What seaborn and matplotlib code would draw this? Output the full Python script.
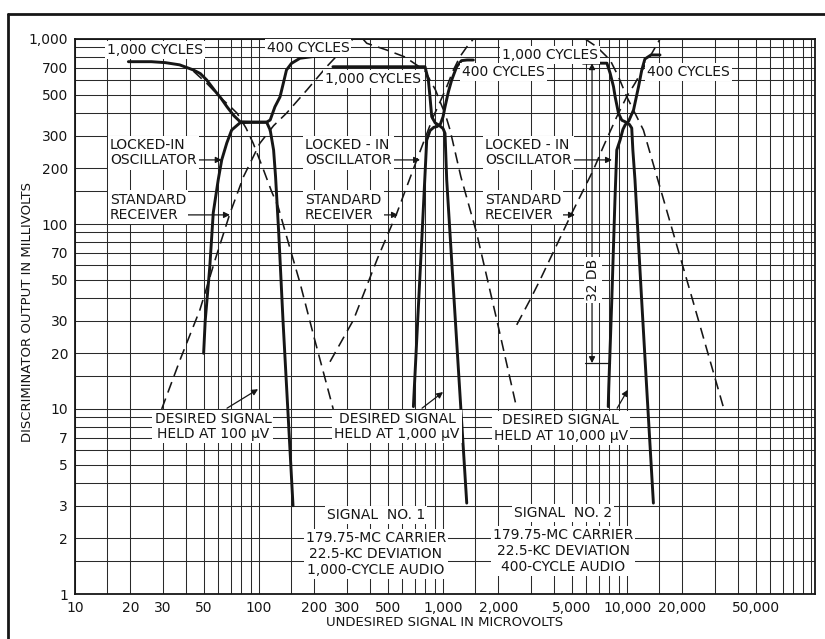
import matplotlib
matplotlib.use('Agg')
import matplotlib.pyplot as plt
import numpy as np
import pandas as pd
import seaborn as sns
from matplotlib.ticker import FixedLocator, FixedFormatter, NullFormatter
from matplotlib.lines import Line2D

# ---- values (microvolts / millivolts) ----
# desired signal held at 100 uV
g1_lock1000_x = [19.5, 26, 31, 37, 44, 48, 52, 58, 62, 67, 73, 79, 95, 110, 115, 120, 123, 128, 135, 153]
g1_lock1000_y = [754, 754, 745, 725, 680, 650, 600, 520, 480, 430, 385, 357, 355, 355, 322, 251, 180, 89, 30, 3]
g1_lock400_x = [50, 51, 54, 56.4, 60, 62.7, 66.8, 71, 79, 95, 110, 115, 122, 130, 135.5, 141, 150, 167, 197, 250]
g1_lock400_y = [20, 30, 58.6, 115, 173, 222, 274, 322, 353, 355, 355, 365, 430, 486, 576, 680, 738, 787, 804, 808]
g1_std1000_x = [44, 52, 62, 70, 76, 85, 93, 105, 117, 127, 145, 167, 200, 253]
g1_std1000_y = [670, 576, 480, 430, 397, 330, 273, 200, 150, 124, 78, 48, 24, 10]
g1_std400_x = [29.6, 37.2, 47.7, 58, 69.5, 82.3, 101, 120, 141, 182, 233, 280, 324]
g1_std400_y = [10, 18.4, 34.3, 65, 114, 180, 273, 340, 397, 530, 708, 860, 1000]

# desired signal held at 1,000 uV
g2_lock1000_x = [252, 500, 798, 832, 849, 868, 906, 950, 1000, 1025, 1047, 1148, 1241, 1345]
g2_lock1000_y = [708, 708, 708, 600, 488, 380, 352, 342, 328, 309, 173, 38.9, 11.2, 3.1]
g2_lock400_x = [690, 728, 774, 801, 815, 850, 890, 925, 965, 1000, 1025, 1070, 1114, 1186, 1259, 1350, 1461]
g2_lock400_y = [10.3, 30, 100, 200, 284, 320, 333, 336, 345, 380, 430, 520, 600, 708, 764, 770, 770]
g2_std1000_x = [367, 385, 494, 620, 720, 800, 849, 910, 964, 1030, 1092, 1250, 1524, 1959, 2514]
g2_std1000_y = [1000, 948, 872, 800, 723, 670, 600, 530, 458, 390, 322, 180, 89, 30.3, 10.1]
g2_std400_x = [243, 326, 440, 560, 720, 885, 964, 1047, 1138, 1237, 1350, 1461]
g2_std400_y = [18, 30.3, 65, 114, 222, 380, 458, 552, 680, 804, 910, 1000]

# desired signal held at 10,000 uV
g3_lock1000_x = [5770, 7770, 8090, 8440, 8610, 8980, 9360, 9760, 10300, 10600, 10750, 11040, 12000, 12800, 13900]
g3_lock1000_y = [740, 740, 653, 552, 488, 397, 364, 357, 345, 330, 251, 173, 38.9, 12.7, 3.1]
g3_lock400_x = [7900, 7950, 8260, 8590, 8790, 9160, 9500, 9760, 10200, 10840, 11540, 12020, 12500, 13500, 15100]
g3_lock400_y = [10.3, 13, 38.9, 134, 251, 284, 325, 343, 360, 413, 552, 680, 780, 820, 820]
g3_std1000_x = [5920, 6840, 8090, 8980, 9960, 11000, 12270, 14700, 22700, 33300]
g3_std1000_y = [1000, 908, 770, 625, 488, 400, 322, 173, 38.9, 10.3]
g3_std400_x = [2514, 2970, 3365, 5000, 6560, 7430, 8790, 9960, 11040, 12500, 15100]
g3_std400_y = [28.5, 38.9, 49.8, 114, 196, 262, 380, 488, 576, 720, 1000]

x_tick_vals = [10, 20, 30, 50, 100, 200, 300, 500, 1000, 2000, 5000, 10000, 20000, 50000]
x_tick_text = ['10', '20', '30', '50', '100', '200', '300', '500', '1,000', '2,000',
               '5,000', '10,000', '20,000', '50,000']
y_tick_vals = [1, 2, 3, 5, 7, 10, 20, 30, 50, 70, 100, 200, 300, 500, 700, 1000]
y_tick_text = ['1', '2', '3', '5', '7', '10', '20', '30', '50', '70', '100', '200', '300',
               '500', '700', '1,000']
paper_steps = [1, 1.5, 2, 3, 4, 5, 6, 7, 8, 9]

curves = [
    ('g1_lock1000', 'locked', g1_lock1000_x, g1_lock1000_y),
    ('g1_lock400', 'locked', g1_lock400_x, g1_lock400_y),
    ('g1_std1000', 'standard', g1_std1000_x, g1_std1000_y),
    ('g1_std400', 'standard', g1_std400_x, g1_std400_y),
    ('g2_lock1000', 'locked', g2_lock1000_x, g2_lock1000_y),
    ('g2_lock400', 'locked', g2_lock400_x, g2_lock400_y),
    ('g2_std1000', 'standard', g2_std1000_x, g2_std1000_y),
    ('g2_std400', 'standard', g2_std400_x, g2_std400_y),
    ('g3_lock1000', 'locked', g3_lock1000_x, g3_lock1000_y),
    ('g3_lock400', 'locked', g3_lock400_x, g3_lock400_y),
    ('g3_std1000', 'standard', g3_std1000_x, g3_std1000_y),
    ('g3_std400', 'standard', g3_std400_x, g3_std400_y),
]
df = pd.concat([pd.DataFrame({'curve': n, 'kind': k, 'x': xs, 'y': ys})
                for n, k, xs, ys in curves], ignore_index=True)

ink = '#161616'
sns.set_style('white')
plt.rcParams['font.family'] = ['DejaVu Sans']

fig = plt.figure(figsize=(8.25, 6.39), dpi=100)
fig.patch.set_facecolor('white')
ax = fig.add_axes([75 / 825, 45 / 639, 740 / 825, 555 / 639])
ax.set_xscale('log')
ax.set_yscale('log')

sns.lineplot(data=df, x='x', y='y', units='curve', estimator=None, sort=False,
             style='kind', size='kind', sizes={'locked': 2.1, 'standard': 1.15},
             dashes={'locked': '', 'standard': (7, 4)}, color=ink, legend=False, ax=ax)

ax.set_xlim(10, 105000)
ax.set_ylim(1, 1000)
ax.set(xlabel='', ylabel='')

# graph-paper grid
x_grid = [m * 10 ** e for e in range(1, 5) for m in paper_steps] + [100000]
y_grid = [m * 10 ** e for e in range(0, 3) for m in paper_steps] + [1000]
ax.xaxis.set_major_locator(FixedLocator(x_tick_vals))
ax.xaxis.set_major_formatter(FixedFormatter(x_tick_text))
ax.xaxis.set_minor_locator(FixedLocator([v for v in x_grid if v not in x_tick_vals]))
ax.xaxis.set_minor_formatter(NullFormatter())
ax.yaxis.set_major_locator(FixedLocator(y_tick_vals))
ax.yaxis.set_major_formatter(FixedFormatter(y_tick_text))
ax.yaxis.set_minor_locator(FixedLocator([v for v in y_grid if v not in y_tick_vals]))
ax.yaxis.set_minor_formatter(NullFormatter())
ax.set_axisbelow(True)
ax.grid(which='both', color='#2a2a2a', lw=0.75)
ax.tick_params(axis='x', which='both', length=0, pad=5, labelsize=10, colors=ink)
ax.tick_params(axis='y', which='major', length=4, width=0.8, pad=1, labelsize=10, colors=ink)
ax.tick_params(axis='y', which='minor', length=0)
for s in ax.spines.values():
    s.set_linewidth(1.3)
    s.set_color(ink)

box = dict(facecolor='white', edgecolor='none', pad=1.5)


def label(x, y, s, ha='left', **kw):
    ax.text(x, y, s, ha=ha, va='center', fontsize=10, color=ink, bbox=box,
            zorder=4, linespacing=1.15, multialignment=ha if ha != 'left' else 'left', **kw)


def arrow(tail, tip, style='-|>'):
    ax.annotate('', xy=tip, xytext=tail, zorder=3,
                arrowprops=dict(arrowstyle=style, color=ink, lw=0.9, mutation_scale=9,
                                shrinkA=0, shrinkB=0))


label(14.9, 872, '1,000 CYCLES')
label(110, 894, '400 CYCLES')
label(228, 608, '1,000 CYCLES')
label(1268, 663, '400 CYCLES')
label(2094, 820, '1,000 CYCLES')
label(12850, 663, '400 CYCLES')

label(15.5, 243, 'LOCKED-IN\nOSCILLATOR')
label(15.5, 123, 'STANDARD\nRECEIVER')
label(178, 243, 'LOCKED - IN\nOSCILLATOR')
label(178, 123, 'STANDARD\nRECEIVER')
label(1690, 243, 'LOCKED - IN\nOSCILLATOR')
label(1690, 123, 'STANDARD\nRECEIVER')

arrow((45, 222), (62.7, 222))
arrow((36, 112), (69.5, 112))
arrow((530, 222), (750, 222))
arrow((415, 112), (569, 112))
arrow((5000, 222), (8280, 222))
arrow((4000, 112), (5210, 112))

label(56.2, 8.04, 'DESIRED SIGNAL\nHELD AT 100 \u00b5V', ha='center')
label(562, 8.04, 'DESIRED SIGNAL\nHELD AT 1,000 \u00b5V', ha='center')
label(4370, 7.9, 'DESIRED SIGNAL\nHELD AT 10,000 \u00b5V', ha='center')
arrow((67, 10.1), (98.8, 12.8))
arrow((769, 10.1), (1000, 12.35))
arrow((8830, 10.1), (10100, 12.7))

label(432, 2.67, 'SIGNAL  NO. 1', ha='center')
label(432, 1.645, '179.75-MC CARRIER\n22.5-KC DEVIATION\n1,000-CYCLE AUDIO', ha='center')
label(4490, 2.74, 'SIGNAL  NO. 2', ha='center')
label(4490, 1.707, '179.75-MC CARRIER\n22.5-KC DEVIATION\n400-CYCLE AUDIO', ha='center')

# 32 dB dimension mark
arrow((6450, 17.7), (6450, 740), style='<|-|>')
ax.plot([5920, 8090], [17.7, 17.7], color=ink, lw=0.9, zorder=3)
ax.text(6530, 49.8, '32 DB', rotation=90, ha='center', va='center', fontsize=10,
        color=ink, bbox=box, zorder=4)

fig.text(445 / 825, 1 - 622 / 639, 'UNDESIRED SIGNAL IN MICROVOLTS', ha='center',
         va='center', fontsize=9.5, color=ink)
fig.text(28 / 825, 1 - 312 / 639, 'DISCRIMINATOR OUTPUT IN MILLIVOLTS', rotation=90,
         ha='center', va='center', fontsize=9.5, color=ink)

# outer frame of the printed figure
fig.add_artist(Line2D([8 / 825, 8 / 825], [0, 1 - 14 / 639], color=ink, lw=2))
fig.add_artist(Line2D([8 / 825, 1], [1 - 14 / 639, 1 - 14 / 639], color=ink, lw=2))

fig.savefig('out.png', dpi=100, facecolor='white')
